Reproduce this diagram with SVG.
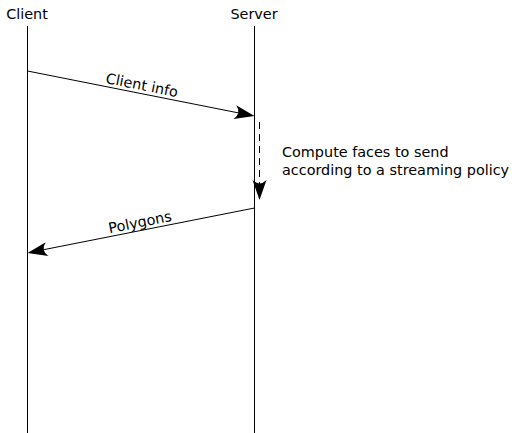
<svg xmlns="http://www.w3.org/2000/svg" width="512" height="433" viewBox="0 0 512 433">
  <style>
    .life { stroke: #000; stroke-width: 1; fill: none; }
    .msg { stroke: #000; stroke-width: 1; fill: none; }
    .dash { stroke: #000; stroke-width: 1; fill: none; stroke-dasharray: 7 5; }
    text { font-family: "DejaVu Sans", sans-serif; font-size: 14.4px; fill: #000; }
    .head { fill: #000; stroke: none; }
  </style>
  <defs>
    <path id="tip" d="M0,0 L-20,-7 Q-13,0 -20,7 Z"/>
  </defs>
  <rect width="512" height="433" fill="#fff"/>

  <g id="client">
    <text x="27" y="19" text-anchor="middle">Client</text>
    <line class="life" x1="27.5" y1="26" x2="27.5" y2="433"/>
  </g>
  <g id="server">
    <text x="254" y="19" text-anchor="middle">Server</text>
    <line class="life" x1="254.5" y1="26" x2="254.5" y2="433"/>
  </g>

  <g id="connectors">
    <!-- Client info request -->
    <line class="msg" x1="27.5" y1="71" x2="244" y2="114"/>
    <use class="head" href="#tip" transform="translate(254.5,116) rotate(11.2)"/>
    <text transform="translate(141,90) rotate(11.2)" text-anchor="middle">Client info</text>

    <!-- server-side computation -->
    <line class="dash" x1="259.5" y1="122" x2="259.5" y2="190"/>
    <use class="head" href="#tip" transform="translate(259.5,200) rotate(90)"/>

    <!-- Polygons reply -->
    <line class="msg" x1="254.5" y1="208" x2="37" y2="251"/>
    <use class="head" href="#tip" transform="translate(27.5,253) rotate(168.8)"/>
    <text transform="translate(141,227) rotate(-11.2)" text-anchor="middle">Polygons</text>
  </g>

  <g id="note">
    <text x="282" y="157">Compute faces to send</text>
    <text x="282" y="175">according to a streaming policy</text>
  </g>
</svg>
